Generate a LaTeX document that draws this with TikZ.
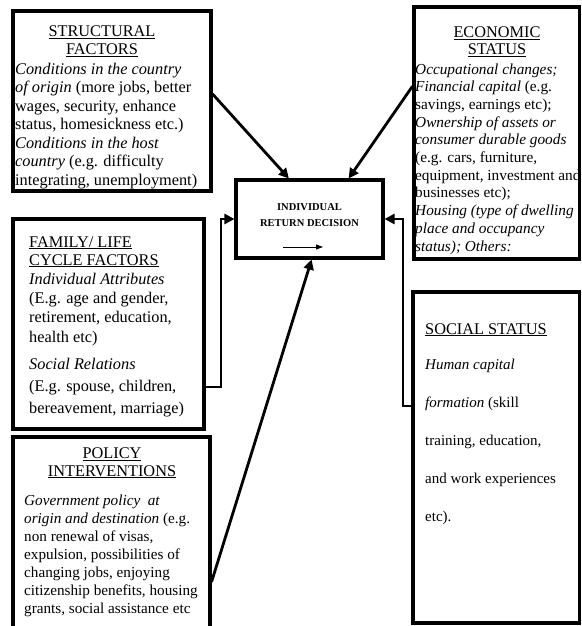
\documentclass[tikz,border=0pt]{standalone}
\usepackage{fontspec}
\setmainfont{Liberation Serif}
\usetikzlibrary{arrows.meta,calc}

% Text nodes are placed by the baseline of their last line.
\tikzset{
  box/.style={draw, line width=3.1pt, inner sep=0pt, fill=white},
  conn/.style={line width=2.8pt, -{Triangle[length=10pt,width=10pt]}},
  smallarrow/.style={line width=1pt, -{Triangle[length=7pt,width=5pt]}},
  title/.style={anchor=base, align=center, inner sep=0pt, font=\fontsize{16.3}{17.5}\selectfont},
  ltitle/.style={anchor=base west, align=left, inner sep=0pt, font=\fontsize{16.3}{18}\selectfont},
  body/.style={anchor=base west, align=left, inner sep=0pt},
}

\begin{document}
\begin{tikzpicture}[x=1pt,y=-1pt]
\useasboundingbox (0,0) rectangle (581,626);
\clip (0,0) rectangle (581,626);
\fill[white] (0,0) rectangle (581,626);

% boxes
\node[box, minimum width=198pt, minimum height=180pt] (struct) at (112,101) {};
\node[box, minimum width=165.5pt, minimum height=252pt] (econ) at (496.75,133) {};
\node[box, minimum width=147pt, minimum height=78pt] (dec) at (309.5,219) {};
\node[box, minimum width=191pt, minimum height=210pt] (fam) at (108.5,324) {};
\node[box, minimum width=166.5pt, minimum height=331pt] (soc) at (496.25,457.5) {};
\node[box, minimum width=197pt, minimum height=213pt] (pol) at (111.5,543.5) {};

% structural factors
\node[title] (struct-title) at (102,54.5) {\underline{STRUCTURAL}\\\underline{FACTORS}};
\node[body, font=\fontsize{16.3}{18.5}\selectfont] (struct-text) at (15,185)
  {\textit{Conditions in the country}\\
   \textit{of origin} (more jobs, better\\
   wages, security, enhance\\
   status, homesickness etc.)\\
   \textit{Conditions in the host}\\
   \textit{country} (e.g. difficulty\\
   integrating, unemployment)};

% economic status
\node[title] (econ-title) at (497,55) {\underline{ECONOMIC}\\\underline{STATUS}};
\node[body, font=\fontsize{15.3}{17.7}\selectfont] (econ-text) at (415,251)
  {\textit{Occupational changes;}\\
   \textit{Financial capital} (e.g.\\
   savings, earnings etc);\\
   \textit{Ownership of assets or}\\
   \textit{consumer durable goods}\\
   (e.g. cars, furniture,\\
   equipment, investment and\\
   businesses etc);\\
   \textit{Housing (type of dwelling}\\
   \textit{place and occupancy}\\
   \textit{status); Others:}};

% decision
\node[anchor=base, align=center, inner sep=0pt, font=\bfseries\fontsize{10.5}{16}\selectfont] (dec-text) at (309.5,226)
  {INDIVIDUAL\\RETURN DECISION};
\coordinate (dec-arrow) at (283,247);
\draw[smallarrow] (dec-arrow) -- ++(40,0);

% family / life cycle factors
\node[ltitle] (fam-title) at (29,265) {\underline{FAMILY/ LIFE}\\\underline{CYCLE FACTORS}};
\node[body, font=\fontsize{16.3}{19.3}\selectfont] (fam-text1) at (29,342)
  {\textit{Individual Attributes}\\
   (E.g. age and gender,\\
   retirement, education,\\
   health etc)};
\node[body, font=\fontsize{16.3}{22}\selectfont] (fam-text2) at (29,413)
  {\textit{Social Relations}\\
   (E.g. spouse, children,\\
   bereavement, marriage)};

% social status
\node[ltitle] (soc-title) at (425,334) {\underline{SOCIAL STATUS}};
\node[body, font=\fontsize{15}{38}\selectfont] (soc-text) at (425,521)
  {\textit{Human capital}\\
   \textit{formation} (skill\\
   training, education,\\
   and work experiences\\
   etc).};

% policy interventions
\node[title] (pol-title) at (112,476) {\underline{POLICY}\\\underline{INTERVENTIONS}};
\node[body, font=\fontsize{15.2}{18}\selectfont] (pol-text) at (24,613)
  {\textit{Government policy\ \ at}\\
   \textit{origin and destination} (e.g.\\
   non renewal of visas,\\
   expulsion, possibilities of\\
   changing jobs, enjoying\\
   citizenship benefits, housing\\
   grants, social assistance etc};

% connectors
\draw[conn] (struct.4.6) -- (dec.117.7);
\draw[conn] (econ.151.5) -- (dec.46.1);
\draw[conn] (pol.-21.3) -- (dec.-87.8);
\coordinate (fam-knee) at (221,387);
\draw[conn] (fam.east |- fam-knee) -- (fam-knee) |- (dec.west);
\coordinate (soc-knee) at (403,406);
\draw[conn] (soc.west |- soc-knee) -- (soc-knee) |- (dec.east);
\end{tikzpicture}
\end{document}
